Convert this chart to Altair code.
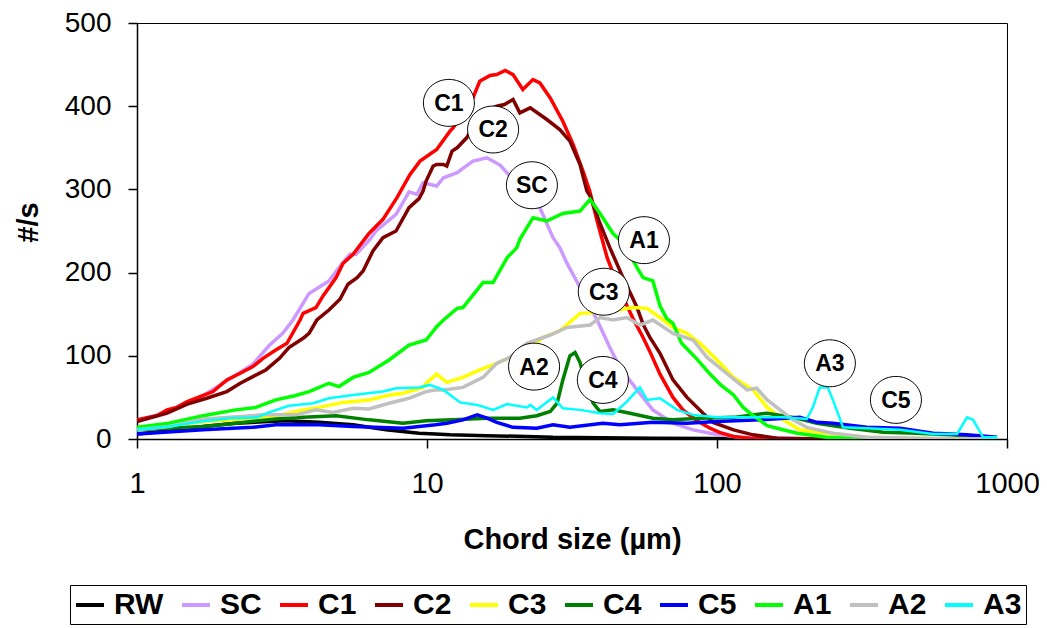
import altair as alt
import pandas as pd

SERIES = ["RW", "SC", "C1", "C2", "C3", "C4", "C5", "A1", "A2", "A3"]
COLORS = ["#000000", "#CC99FF", "#FF0000", "#800000", "#FFFF00",
          "#008000", "#0000FF", "#00FF00", "#C0C0C0", "#00FFFF"]

RW = [(1, 6), (1.29, 10), (1.69, 15), (2.19, 19), (2.85, 21), (3.26, 22), (4.24, 20),
      (5.56, 17), (7.22, 11), (9.39, 7), (10.7, 6), (12.0, 5), (16.1, 4), (22, 3),
      (27.2, 2), (40, 1.5), (60, 1), (100, 0.5), (200, 0.3), (500, 0.2), (924, 0)]

SC = [(1, 22), (1.29, 33), (1.65, 50), (2.04, 70), (2.51, 90), (2.85, 112), (3.18, 127),
      (3.45, 143), (3.92, 175), (4.59, 190), (5.13, 212), (5.42, 222), (5.69, 222),
      (6.36, 240), (6.67, 250), (7.82, 270), (8.07, 278), (8.67, 297), (9.24, 294),
      (9.69, 308), (10.8, 304), (11.4, 314), (12.7, 320), (14.4, 334), (16.1, 338),
      (17.9, 329), (20, 310), (22.1, 295), (24.5, 278), (27.2, 242), (28.7, 230),
      (30.4, 211), (32.9, 189), (35.6, 165), (38.6, 143), (42.7, 110), (46.3, 86),
      (53.0, 59), (60.1, 35), (70.5, 19), (82.7, 11), (94.6, 7), (120, 2), (200, 0.5),
      (400, 0), (924, 0)]

C1 = [(1, 23), (1.17, 28), (1.27, 35), (1.37, 38), (1.49, 45), (1.65, 51), (1.83, 57),
      (2.04, 71), (2.27, 79), (2.51, 87), (2.72, 97), (3.01, 107), (3.29, 115),
      (3.65, 143), (3.74, 151), (4.14, 158), (4.38, 172), (4.86, 194), (5.13, 211),
      (5.56, 222), (6.31, 247), (7.05, 264), (7.88, 290), (8.74, 318), (9.46, 334),
      (10.8, 348), (12.0, 370), (12.3, 374), (14.4, 410), (15.2, 430), (16.5, 437),
      (17.4, 438), (18.6, 443), (19.8, 438), (21.4, 420), (23.2, 432), (24.5, 428),
      (26.6, 410), (29.4, 382), (31.9, 354), (34.5, 322), (36.4, 298), (38.6, 262),
      (41.8, 218), (46.3, 178), (51.3, 145), (55.6, 122), (58.7, 105), (63.6, 78),
      (70.5, 50), (76.3, 35), (85.3, 22), (94.6, 13), (102, 8), (114, 3), (130, 1),
      (200, 0), (924, 0)]

C2 = [(1, 21), (1.27, 31), (1.49, 42), (1.74, 49), (2.04, 57), (2.27, 67), (2.51, 75),
      (2.78, 83), (3.1, 97), (3.34, 110), (3.74, 121), (3.92, 127), (4.17, 143),
      (4.59, 155), (5.01, 168), (5.34, 186), (5.74, 194), (6.02, 202), (6.51, 226),
      (7.05, 242), (7.82, 250), (8.67, 278), (9.39, 289), (9.69, 298), (9.93, 310),
      (10.5, 328), (10.8, 330), (11.4, 330), (11.7, 328), (12.2, 346), (12.7, 350),
      (13.7, 362), (15.0, 385), (16.0, 395), (17.4, 400), (18.5, 402), (19.8, 408),
      (20.9, 392), (22.7, 398), (25.9, 384), (28.7, 372), (31.1, 358), (33.7, 330),
      (35.6, 298), (36.5, 292), (39.5, 259), (42.7, 230), (47.4, 194), (53.0, 158),
      (55.6, 138), (58.7, 122), (63.6, 103), (70.5, 71), (78.8, 50), (89.5, 31),
      (96.9, 20), (114, 11), (133, 5), (161, 1), (220, 0), (924, 0)]

C3 = [(1, 11), (1.69, 21), (2.85, 26), (3.74, 35), (4.24, 38), (5.13, 44), (6.31, 47),
      (7.45, 53), (8.26, 55), (9.69, 62), (9.93, 67), (10.8, 78), (11.7, 68), (13.3, 74),
      (15.2, 83), (17.4, 91), (19.3, 98), (22.1, 107), (25.1, 122), (28.7, 130),
      (33.7, 151), (39.5, 152), (45.2, 155), (51.3, 158), (57.4, 157), (63.6, 146),
      (70.5, 134), (78.8, 127), (87.4, 115), (100, 95), (114, 74), (133, 59), (149, 38),
      (169, 23), (193, 11), (239, 7), (329, 2), (450, 1), (924, 0)]

C4 = [(1, 11), (1.69, 15), (2.19, 19), (3.01, 24), (3.74, 26), (4.86, 28), (6.31, 23),
      (8.26, 19), (9.93, 22), (12.3, 23), (16.1, 25), (20.9, 25), (23.9, 28), (26.6, 33),
      (28.1, 43), (29.4, 71), (31.1, 100), (32.4, 104), (33.7, 92), (35.6, 62),
      (37.4, 43), (39.5, 33), (43.8, 35), (50.1, 31), (60.1, 25), (70.5, 23), (87.4, 25),
      (114, 26), (149, 31), (183, 26), (221, 19), (288, 13), (374, 8), (489, 7),
      (635, 5), (827, 2), (924, 1)]

C5 = [(1, 6), (1.69, 11), (2.51, 14), (3.01, 17), (4.24, 17), (5.56, 15), (8.26, 13),
      (10.7, 17), (11.7, 19), (13.3, 23), (14.9, 29), (16.1, 25), (17.4, 20), (19.8, 14),
      (23.9, 13), (27.2, 17), (31.1, 14), (40.4, 19), (46.3, 17), (60.1, 20), (78.8, 19),
      (100, 21), (141, 23), (193, 26), (221, 20), (251, 19), (329, 14), (428, 13),
      (556, 7), (728, 5), (924, 2)]

A1 = [(1, 14), (1.29, 19), (1.69, 28), (2.19, 35), (2.57, 38), (3.01, 47), (3.5, 52),
      (3.92, 57), (4.59, 67), (4.97, 63), (5.56, 74), (6.31, 80), (7.4, 95), (8.67, 113),
      (9.93, 119), (10.8, 135), (11.4, 143), (12.7, 157), (13.3, 158), (15.6, 188),
      (16.9, 188), (18.9, 218), (20.4, 230), (20.9, 240), (23.2, 266), (25.9, 262),
      (29.4, 271), (33.7, 274), (36.5, 288), (39.5, 271), (43.8, 247), (47.4, 236),
      (50, 222), (53, 206), (55.6, 194), (60.1, 190), (63.6, 160), (67, 145),
      (70.5, 139), (75.5, 115), (85.3, 96), (94.6, 78), (103, 65), (114, 53), (123, 38),
      (130, 31), (141, 22), (149, 16), (161, 13), (189, 7), (239, 2), (288, 1),
      (400, 0), (924, 0)]

A2 = [(1, 11), (1.29, 15), (1.69, 24), (2.1, 26), (2.72, 29), (3.53, 29), (4.14, 35),
      (4.74, 32), (5.56, 37), (6.31, 36), (7.4, 43), (8.67, 49), (9.93, 57), (10.7, 59),
      (11.4, 59), (13.3, 62), (15.6, 74), (17.4, 91), (19.3, 98), (22.1, 115),
      (26.6, 125), (30.4, 134), (36.5, 137), (39.5, 146), (43.8, 143), (48.9, 146),
      (54.2, 137), (60.1, 143), (70.5, 127), (82.7, 119), (92.4, 98), (108, 79),
      (127, 59), (137, 61), (149, 47), (165, 35), (183, 23), (204, 14), (251, 7),
      (329, 2), (500, 1), (924, 0)]

A3 = [(1, 11), (1.29, 15), (1.66, 21), (2.09, 25), (2.6, 26), (2.85, 32), (3.34, 40),
      (4.05, 43), (4.59, 49), (5.56, 53), (7.05, 57), (7.82, 61), (9.39, 62), (10.2, 65),
      (11.4, 59), (13.0, 44), (14.9, 41), (16.9, 35), (18.9, 42), (22.1, 38), (22.7, 41),
      (23.9, 35), (27.2, 50), (29.4, 37), (33.7, 35), (39.5, 31), (43.8, 30), (48.9, 45),
      (54.2, 62), (57.4, 47), (63.6, 49), (72.8, 35), (82.7, 29), (100, 26), (130, 26),
      (169, 26), (204, 24), (214, 38), (226, 62), (241, 62), (251, 47), (272, 14),
      (329, 13), (428, 11), (556, 6), (673, 6), (728, 26), (764, 23), (827, 2), (924, 2)]

DATA = {"RW": RW, "SC": SC, "C1": C1, "C2": C2, "C3": C3, "C4": C4, "C5": C5,
        "A1": A1, "A2": A2, "A3": A3}

# label callouts (name, x, y)
LABELS = ["C1", "C2", "SC", "A1", "C3", "A2", "C4", "A3", "C5"]
LABEL_X = [11.9, 16.9, 23.0, 56.0, 40.7, 23.4, 40.4, 245, 414]
LABEL_Y = [404, 372, 305, 239, 177, 87, 71, 91, 47]

rows = []
for name in SERIES:
    for i, (xv, yv) in enumerate(DATA[name]):
        rows.append({"series": name, "size": xv, "rate": yv, "i": i})
df = pd.DataFrame(rows)
ann = pd.DataFrame({"label": LABELS, "size": LABEL_X, "rate": LABEL_Y})

FONT = "Liberation Sans"
color_scale = alt.Scale(domain=SERIES, range=COLORS)

x_enc = alt.X("size:Q",
              scale=alt.Scale(type="log", domain=[1, 1000]),
              axis=alt.Axis(values=[1, 10, 100, 1000], format="d", grid=False,
                            labelFont=FONT, labelFontSize=29, labelColor="black",
                            labelPadding=21, labelFlush=False,
                            tickSize=9, tickColor="black", tickWidth=1.5,
                            domainColor="black", domainWidth=1.5,
                            title="Chord size (µm)", titleFont=FONT, titleFontSize=29,
                            titleFontWeight="bold", titleColor="black",
                            titleBaseline="alphabetic", titleY=109))
y_enc = alt.Y("rate:Q",
              scale=alt.Scale(domain=[0, 500], nice=False),
              axis=alt.Axis(values=[0, 100, 200, 300, 400, 500], grid=False,
                            labelFont=FONT, labelFontSize=28, labelColor="black",
                            labelPadding=17,
                            tickSize=9, tickColor="black", tickWidth=1.5,
                            domainColor="black", domainWidth=1.5,
                            title="#/s", titleFont=FONT, titleFontSize=29,
                            titleFontWeight="bold", titleColor="black",
                            titleAngle=270, titleBaseline="alphabetic",
                            titleX=-100, titleY=199))

legend = alt.Legend(title=None, orient="none", legendX=-67, legendY=562,
                    direction="horizontal", columns=10, columnPadding=10,
                    labelFont=FONT, labelFontSize=30, labelFontWeight="bold",
                    labelColor="black", labelOffset=8, labelLimit=200,
                    symbolType="stroke", symbolStrokeWidth=4, symbolSize=784,
                    padding=4, strokeColor="black", fillColor="white")

layers = []
for name in SERIES:
    sw = 2.5 if name == "A3" else 3.5
    layers.append(
        alt.Chart(df)
        .transform_filter(alt.datum.series == name)
        .mark_line(strokeWidth=sw, clip=True)
        .encode(x=x_enc, y=y_enc,
                color=alt.Color("series:N", scale=color_scale, legend=legend),
                order="i:Q")
    )

ellipse = "M-1,0A1,0.92,0,1,1,1,0A1,0.92,0,1,1,-1,0Z"
bubbles = alt.Chart(ann).mark_point(shape=ellipse, size=2601, filled=True,
                                    fill="white", stroke="black", strokeWidth=1,
                                    opacity=1).encode(x=x_enc, y=y_enc)
texts = alt.Chart(ann).mark_text(font=FONT, fontSize=23, fontWeight="bold",
                                 color="black", align="center",
                                 baseline="middle", dy=1).encode(
    x=x_enc, y=y_enc, text="label:N")

chart = alt.layer(*layers, bubbles, texts).properties(
    width=870, height=416,
    autosize=alt.AutoSizeParams(type="none"),
    padding={"left": 129, "top": 15, "right": 32, "bottom": 188},
    background="white",
).configure_view(stroke="black", strokeWidth=1)

chart.save("out.html", embed_options={"renderer": "svg", "actions": False})
